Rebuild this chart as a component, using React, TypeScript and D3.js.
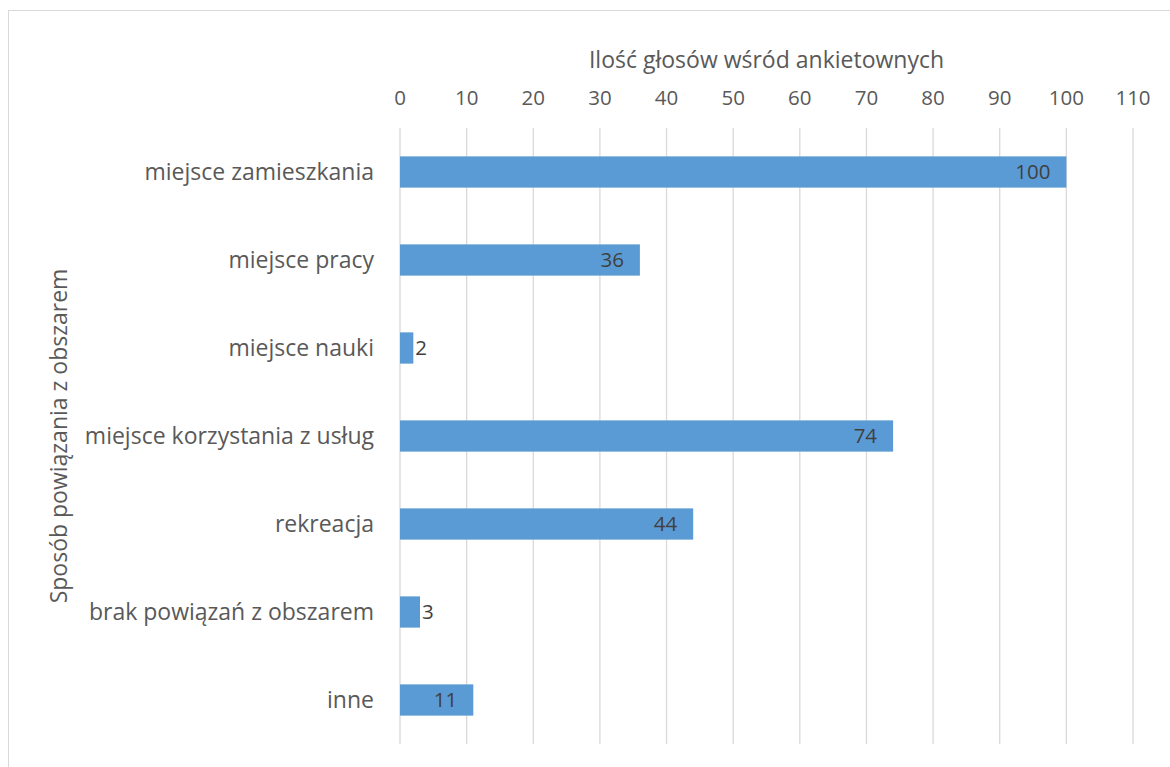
import React from "react";
import * as d3 from "d3";

const categories = [
  "miejsce zamieszkania",
  "miejsce pracy",
  "miejsce nauki",
  "miejsce korzystania z usług",
  "rekreacja",
  "brak powiązań z obszarem",
  "inne",
];
const values = [100, 36, 2, 74, 44, 3, 11];
const xTicks = [0, 10, 20, 30, 40, 50, 60, 70, 80, 90, 100, 110];
const xTitle = "Ilość głosów wśród ankietownych";
const yTitle = "Sposób powiązania z obszarem";

const W = 1170;
const H = 767;
const plot = { left: 400, right: 1133, top: 128, bottom: 744 };
const FONT = "'Open Sans', 'Noto Sans', sans-serif";
const TXT = 23;
const NUM = 20.5;

export default function App() {
  const x = d3.scaleLinear().domain([0, 110]).range([plot.left, plot.right]);
  const y = d3
    .scaleBand<string>()
    .domain(categories)
    .range([plot.top, plot.bottom])
    .paddingInner(0.645)
    .paddingOuter(0.3225);
  const bh = y.bandwidth();

  return (
    <svg
      width={W}
      height={H}
      style={{ position: "absolute", left: 0, top: 0, background: "#fff" }}
      fontFamily={FONT}
    >
      <rect x={8.5} y={10.5} width={1300} height={900} fill="#fff" stroke="#d9d9d9" strokeWidth={1} />
      {xTicks.map((t) => (
        <g key={t}>
          <line x1={x(t)} x2={x(t)} y1={plot.top} y2={plot.bottom} stroke="#d9d9d9" strokeWidth={1.3} />
          <text x={x(t)} y={105} textAnchor="middle" fontSize={NUM} fill="#595959">
            {t}
          </text>
        </g>
      ))}
      <text x={(plot.left + plot.right) / 2} y={68} textAnchor="middle" fontSize={TXT} fill="#595959">
        {xTitle}
      </text>
      <text
        transform={`translate(67,${(plot.top + plot.bottom) / 2}) rotate(-90)`}
        textAnchor="middle"
        fontSize={TXT}
        fill="#595959"
      >
        {yTitle}
      </text>
      {categories.map((c, i) => {
        const v = values[i];
        const y0 = y(c)!;
        const x0 = x(0);
        const x1 = x(v);
        const cy = y0 + bh / 2;
        const inside = x1 - x0 > 40;
        return (
          <g key={c}>
            <text x={374} y={cy} dy="0.35em" textAnchor="end" fontSize={TXT} fill="#595959">
              {c}
            </text>
            <rect x={x0} y={y0} width={x1 - x0} height={bh} fill="#5b9bd5" />
            <text
              x={inside ? x1 - 16 : x1 + 2}
              y={cy}
              dy="0.36em"
              textAnchor={inside ? "end" : "start"}
              fontSize={NUM}
              fill="#404040"
            >
              {v}
            </text>
          </g>
        );
      })}
    </svg>
  );
}
